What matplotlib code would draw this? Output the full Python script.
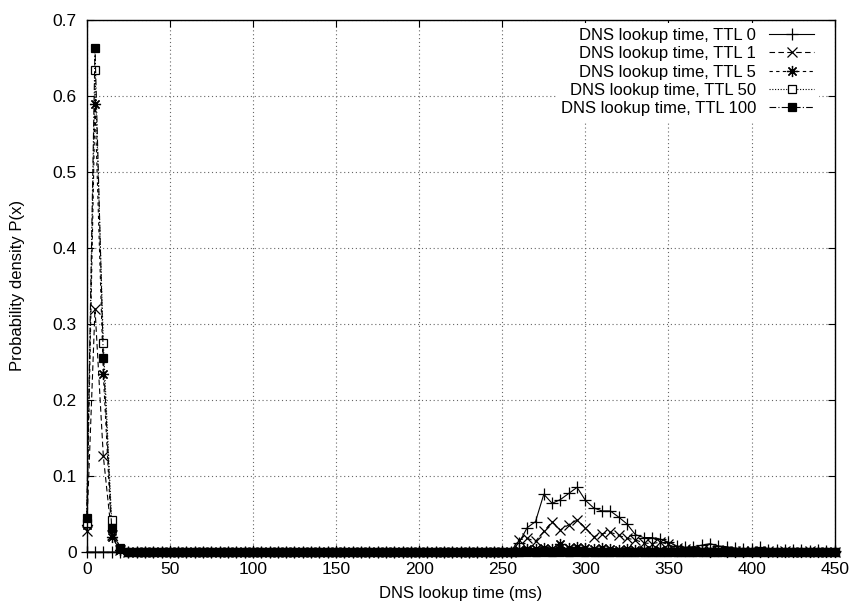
import matplotlib

matplotlib.use("Agg")
import matplotlib.pyplot as plt

# ---------------------------------------------------------------------------
# 数据: 5 ms 分箱, 0 .. 450 ms
# ---------------------------------------------------------------------------
bins_ms = list(range(0, 455, 5))

ttl0 = [
    0.0, 0.0, 0.0, 0.0, 0.0, 0.0, 0.0, 0.0, 0.0, 0.0,
    0.0, 0.0, 0.0, 0.0, 0.0, 0.0, 0.0, 0.0, 0.0, 0.0,
    0.0, 0.0, 0.0, 0.0, 0.0, 0.0, 0.0, 0.0, 0.0, 0.0,
    0.0, 0.0, 0.0, 0.0, 0.0, 0.0, 0.0, 0.0, 0.0, 0.0,
    0.0, 0.0, 0.0, 0.0, 0.0, 0.0, 0.0, 0.0, 0.0, 0.0,
    0.0, 0.0, 0.012, 0.032, 0.040, 0.076, 0.064, 0.069, 0.077, 0.085,
    0.068, 0.058, 0.054, 0.054, 0.046, 0.037, 0.023, 0.019, 0.019, 0.017,
    0.013, 0.008, 0.006, 0.007, 0.009, 0.011, 0.008, 0.007, 0.005, 0.004,
    0.004, 0.006, 0.003, 0.002, 0.003, 0.002, 0.002, 0.001, 0.002, 0.001,
    0.001,
]
ttl1 = [
    0.028, 0.320, 0.126, 0.022, 0.002, 0.0, 0.0, 0.0, 0.0, 0.0,
    0.0, 0.0, 0.0, 0.0, 0.0, 0.0, 0.0, 0.0, 0.0, 0.0,
    0.0, 0.0, 0.0, 0.0, 0.0, 0.0, 0.0, 0.0, 0.0, 0.0,
    0.0, 0.0, 0.0, 0.0, 0.0, 0.0, 0.0, 0.0, 0.0, 0.0,
    0.0, 0.0, 0.0, 0.0, 0.0, 0.0, 0.0, 0.0, 0.0, 0.0,
    0.0, 0.0, 0.016, 0.018, 0.014, 0.027, 0.040, 0.029, 0.036, 0.042,
    0.032, 0.020, 0.024, 0.026, 0.022, 0.018, 0.016, 0.012, 0.011, 0.013,
    0.010, 0.005, 0.004, 0.003, 0.003, 0.002, 0.002, 0.001, 0.001, 0.001,
    0.001, 0.001, 0.001, 0.0, 0.001, 0.0, 0.0, 0.001, 0.0, 0.0,
    0.0,
]
ttl5 = [
    0.035, 0.589, 0.234, 0.020, 0.003, 0.0, 0.0, 0.0, 0.0, 0.0,
    0.0, 0.0, 0.0, 0.0, 0.0, 0.0, 0.0, 0.0, 0.0, 0.0,
    0.0, 0.0, 0.0, 0.0, 0.0, 0.0, 0.0, 0.0, 0.0, 0.0,
    0.0, 0.0, 0.0, 0.0, 0.0, 0.0, 0.0, 0.0, 0.0, 0.0,
    0.0, 0.0, 0.0, 0.0, 0.0, 0.0, 0.0, 0.0, 0.0, 0.0,
    0.0, 0.0, 0.002, 0.004, 0.004, 0.005, 0.004, 0.011, 0.005, 0.006,
    0.005, 0.004, 0.005, 0.004, 0.003, 0.004, 0.003, 0.003, 0.002, 0.002,
    0.002, 0.001, 0.001, 0.001, 0.001, 0.0, 0.001, 0.0, 0.0, 0.0,
    0.0, 0.0, 0.0, 0.0, 0.0, 0.0, 0.0, 0.0, 0.0, 0.0,
    0.0,
]
ttl50 = [
    0.038, 0.634, 0.275, 0.042, 0.004, 0.0, 0.0, 0.0, 0.0, 0.0,
    0.0, 0.0, 0.0, 0.0, 0.0, 0.0, 0.0, 0.0, 0.0, 0.0,
    0.0, 0.0, 0.0, 0.0, 0.0, 0.0, 0.0, 0.0, 0.0, 0.0,
    0.0, 0.0, 0.0, 0.0, 0.0, 0.0, 0.0, 0.0, 0.0, 0.0,
    0.0, 0.0, 0.0, 0.0, 0.0, 0.0, 0.0, 0.0, 0.0, 0.0,
    0.0, 0.0, 0.0, 0.001, 0.0, 0.001, 0.0, 0.001, 0.0, 0.001,
    0.0, 0.0, 0.0, 0.0, 0.0, 0.0, 0.0, 0.0, 0.0, 0.0,
    0.0, 0.0, 0.0, 0.0, 0.0, 0.0, 0.0, 0.0, 0.0, 0.0,
    0.0, 0.0, 0.0, 0.0, 0.0, 0.0, 0.0, 0.0, 0.0, 0.0,
    0.0,
]
ttl100 = [
    0.045, 0.663, 0.255, 0.032, 0.005, 0.0, 0.0, 0.0, 0.0, 0.0,
    0.0, 0.0, 0.0, 0.0, 0.0, 0.0, 0.0, 0.0, 0.0, 0.0,
    0.0, 0.0, 0.0, 0.0, 0.0, 0.0, 0.0, 0.0, 0.0, 0.0,
    0.0, 0.0, 0.0, 0.0, 0.0, 0.0, 0.0, 0.0, 0.0, 0.0,
    0.0, 0.0, 0.0, 0.0, 0.0, 0.0, 0.0, 0.0, 0.0, 0.0,
    0.0, 0.0, 0.0, 0.0, 0.0, 0.0, 0.0, 0.0, 0.0, 0.0,
    0.0, 0.0, 0.0, 0.0, 0.0, 0.0, 0.0, 0.0, 0.0, 0.0,
    0.0, 0.0, 0.0, 0.0, 0.0, 0.0, 0.0, 0.0, 0.0, 0.0,
    0.0, 0.0, 0.0, 0.0, 0.0, 0.0, 0.0, 0.0, 0.0, 0.0,
    0.0,
]

series_labels = [
    "DNS lookup time, TTL 0",
    "DNS lookup time, TTL 1",
    "DNS lookup time, TTL 5",
    "DNS lookup time, TTL 50",
    "DNS lookup time, TTL 100",
]

x_ticks = [0, 50, 100, 150, 200, 250, 300, 350, 400, 450]
y_ticks = [0, 0.1, 0.2, 0.3, 0.4, 0.5, 0.6, 0.7]
y_tick_labels = ["0", "0.1", "0.2", "0.3", "0.4", "0.5", "0.6", "0.7"]

# ---------------------------------------------------------------------------
# 绘图 (gnuplot 风格)
# ---------------------------------------------------------------------------
plt.rcParams["font.family"] = ["Liberation Sans", "DejaVu Sans"]
plt.rcParams["font.size"] = 12

fig = plt.figure(figsize=(8.5, 6.01), dpi=100)
ax = fig.add_axes([0.102, 0.0815, 0.880, 0.886])

asterisk = (8, 2, 0)
styles = [
    dict(ls="-", marker="+", ms=8, mfc="black"),
    dict(ls=(0, (5, 3)), marker="x", ms=7, mfc="black"),
    dict(ls=(0, (3, 3)), marker=asterisk, ms=8, mfc="black"),
    dict(ls=(0, (1, 1.5)), marker="s", ms=6, mfc="white"),
    dict(ls=(0, (6, 2, 1, 2)), marker="s", ms=6, mfc="black"),
]

for vals, lab, st in zip([ttl0, ttl1, ttl5, ttl50, ttl100], series_labels, styles):
    ax.plot(
        bins_ms,
        vals,
        color="black",
        lw=0.8,
        mec="black",
        mew=0.9,
        label=lab,
        clip_on=False,
        **st,
    )

ax.set_xlim(0, 450)
ax.set_ylim(0, 0.7)
ax.set_xticks(x_ticks)
ax.set_yticks(y_ticks)
ax.set_yticklabels(y_tick_labels)

ax.grid(True, color="#666666", ls=(0, (1, 2.5)), lw=0.8)
ax.set_axisbelow(True)
ax.tick_params(
    direction="in", length=5, width=0.8, top=True, right=True, labelsize=12.5, pad=7
)
for sp in ax.spines.values():
    sp.set_linewidth(1.0)

ax.set_xlabel("DNS lookup time (ms)", fontsize=12)
ax.set_ylabel("Probability density P(x)", fontsize=12)
ax.xaxis.set_label_coords(0.5, -0.064)
ax.yaxis.set_label_coords(-0.083, 0.5)

leg = ax.legend(
    loc="upper right",
    bbox_to_anchor=(1 - 12 / 748, 1.0),
    markerfirst=False,
    frameon=True,
    fontsize=12,
    handlelength=2.7,
    handletextpad=0.8,
    labelspacing=0.2,
    borderaxespad=0.2,
    borderpad=0.3,
)
leg.get_frame().set_edgecolor("none")
leg.get_frame().set_facecolor("white")
leg.get_frame().set_alpha(1.0)
leg.get_frame().set_boxstyle("square", pad=0.0)

fig.savefig("out.png", dpi=100)
